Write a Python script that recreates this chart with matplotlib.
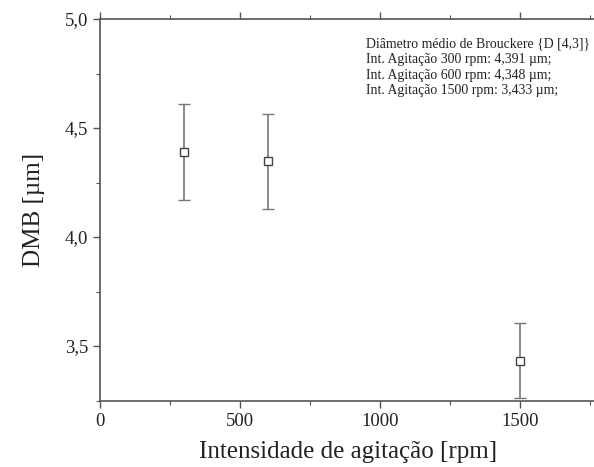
import matplotlib
matplotlib.use('Agg')
import matplotlib.pyplot as plt
from matplotlib.ticker import MultipleLocator

plt.rcParams['font.family'] = ['Liberation Serif', 'DejaVu Serif']

rpm = [300, 600, 1500]
dmb = [4.391, 4.348, 3.433]
err = [0.22, 0.218, 0.172]

yticks = [3.5, 4.0, 4.5, 5.0]
ylabels = ['3,5', '4,0', '4,5', '5,0']
xticks = [0, 500, 1000, 1500]

note = ('Diâmetro médio de Brouckere {D [4,3]}\n'
        'Int. Agitação 300 rpm: 4,391 µm;\n'
        'Int. Agitação 600 rpm: 4,348 µm;\n'
        'Int. Agitação 1500 rpm: 3,433 µm;')

fig = plt.figure(figsize=(5.94, 4.67), dpi=100)
ax = fig.add_axes([0.1684, 0.1413, 0.8367, 0.818])

ax.errorbar(rpm, dmb, yerr=err, fmt='s', color='#555555', ecolor='#777777',
            mfc='white', mec='#444444', ms=6, mew=1, capsize=4, elinewidth=1.2,
            capthick=1)

ax.set_xlim(0, 1775)
ax.set_ylim(3.248, 5.0)
ax.set_xticks(xticks)
ax.set_yticks(yticks)
ax.set_yticklabels(ylabels)
ax.xaxis.set_minor_locator(MultipleLocator(250))
ax.yaxis.set_minor_locator(MultipleLocator(0.25))

for s in ax.spines.values():
    s.set_color('#555555')
    s.set_linewidth(1.2)

ax.tick_params(which='both', direction='out', colors='#555555', labelcolor='#222222',
               top=True, labelsize=13.5)
ax.tick_params(which='major', length=5, width=1)
ax.tick_params(which='minor', length=3, width=0.8)

ax.set_xlabel('Intensidade de agitação [rpm]', fontsize=18, color='#222222', labelpad=8)
ax.set_ylabel('DMB [µm]', fontsize=18, color='#222222', labelpad=14)

ax.text(0.535, 0.953, note, transform=ax.transAxes, fontsize=9.9, va='top',
        ha='left', linespacing=1.28, color='#222222')

fig.savefig('out.png', dpi=100)
